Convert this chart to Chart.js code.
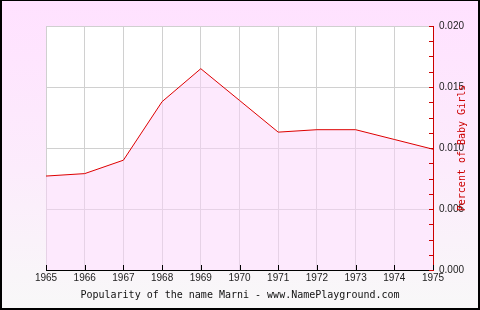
<!DOCTYPE html>
<html>
<head>
<meta charset="utf-8">
<script src="https://cdn.jsdelivr.net/npm/chart.js@4/dist/chart.umd.min.js"></script>
<style>
  html, body { margin: 0; padding: 0; background: #fff; }
  #chart { display: block; }
</style>
</head>
<body>
<canvas id="chart" width="480" height="310"></canvas>
<script>
// data
var years = ["1965", "1966", "1967", "1968", "1969", "1970", "1971", "1972", "1973", "1974", "1975"];
var percentGirls = [0.0077, 0.0079, 0.0090, 0.0138, 0.0165, 0.0139, 0.0113, 0.0115, 0.0115, 0.0107, 0.0099];
var chartTitle = "Popularity of the name Marni - www.NamePlayground.com";
var axisTitle = "Percent of Baby Girls";

var tickFont = { family: '"Liberation Sans Narrow", "Liberation Sans"', size: 10 };

function isMajor(v) {
  var r = v / 0.005;
  return Math.abs(r - Math.round(r)) < 1e-6;
}

// background, frame, inner tick marks and texts
var decor = {
  id: 'decor',
  beforeDraw: function(chart) {
    var ctx = chart.ctx, a = chart.chartArea;
    ctx.save();
    ctx.fillStyle = '#000';
    ctx.fillRect(0, 0, 480, 310);
    var g = ctx.createLinearGradient(0, 0, 0, 310);
    g.addColorStop(0, '#ffe1ff');
    g.addColorStop(0.55, '#fcecfc');
    g.addColorStop(1, '#f8f8f8');
    ctx.fillStyle = g;
    ctx.fillRect(2, 1, 476, 307);
    ctx.fillStyle = '#fff';
    ctx.fillRect(a.left, a.top, a.right - a.left, a.bottom - a.top);
    ctx.restore();
  },
  afterDraw: function(chart) {
    var ctx = chart.ctx, a = chart.chartArea;
    var xs = chart.scales.x, ys = chart.scales.y;
    ctx.save();
    ctx.lineWidth = 1;
    // x ticks (inside the plot)
    ctx.strokeStyle = '#000';
    ctx.beginPath();
    xs.ticks.forEach(function(t, i) {
      var px = Math.round(xs.getPixelForTick(i)) + 0.5;
      ctx.moveTo(px, a.bottom);
      ctx.lineTo(px, a.bottom - 5);
    });
    ctx.stroke();
    // y ticks (inside the plot)
    ctx.strokeStyle = '#cc0000';
    ctx.beginPath();
    ys.ticks.forEach(function(t) {
      var py = Math.round(ys.getPixelForValue(t.value)) + 0.5;
      ctx.moveTo(a.right, py);
      ctx.lineTo(a.right - 4, py);
    });
    ctx.stroke();
    // title
    ctx.fillStyle = '#111';
    ctx.font = '10px "DejaVu Sans Mono"';
    ctx.textAlign = 'center';
    ctx.textBaseline = 'middle';
    ctx.fillText(chartTitle, 240, 295);
    // axis title
    ctx.translate(462, 148);
    ctx.rotate(-Math.PI / 2);
    ctx.fillStyle = '#cc0000';
    ctx.fillText(axisTitle, 0, 0);
    ctx.restore();
  }
};

new Chart(document.getElementById('chart'), {
  type: 'line',
  data: {
    labels: years,
    datasets: [{
      data: percentGirls,
      borderColor: '#dd0000',
      borderWidth: 1,
      backgroundColor: 'rgba(251, 211, 251, 0.5)',
      fill: 'origin',
      pointRadius: 0,
      tension: 0
    }]
  },
  options: {
    responsive: false,
    animation: false,
    layout: { padding: { top: 26, left: 46, right: 0, bottom: 20 } },
    plugins: {
      legend: { display: false },
      tooltip: { enabled: false }
    },
    scales: {
      x: {
        type: 'category',
        offset: false,
        grid: { color: '#d0d0d0', drawTicks: false },
        border: { color: '#000' },
        ticks: {
          autoSkip: false, maxRotation: 0, padding: 2,
          color: '#222', font: tickFont
        },
        afterFit: function(s) { s.height = 20; }
      },
      y: {
        position: 'right',
        min: 0,
        max: 0.02,
        grid: {
          drawTicks: false,
          color: function(c) { return c.tick && isMajor(c.tick.value) ? '#d0d0d0' : 'rgba(0,0,0,0)'; }
        },
        border: { color: '#cc0000' },
        ticks: {
          stepSize: 0.00125, maxTicksLimit: 30, autoSkip: false, padding: 6,
          color: '#222', font: tickFont,
          callback: function(v) { return isMajor(v) ? v.toFixed(3) : ''; }
        },
        afterFit: function(s) { s.width = 47; }
      }
    }
  },
  plugins: [decor]
});
</script>
</body>
</html>
